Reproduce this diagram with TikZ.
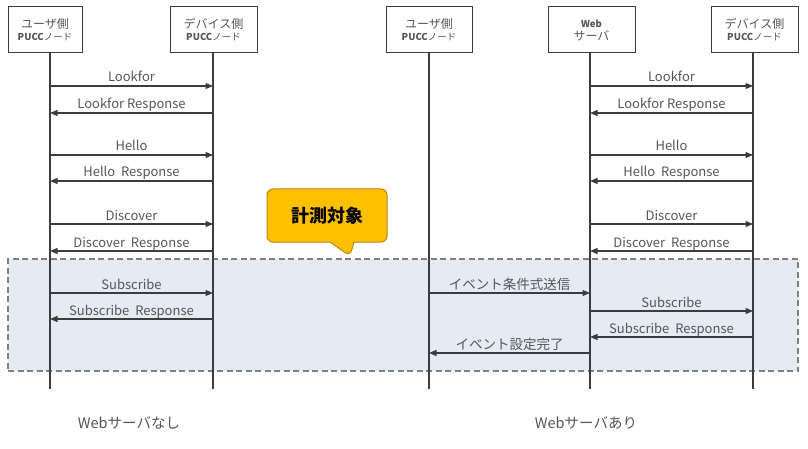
\documentclass[tikz,border=0pt]{standalone}
\usepackage{fontspec}
\setmainfont{Noto Sans CJK JP}
\usetikzlibrary{arrows.meta,shapes.callouts}
\definecolor{ln}{HTML}{3C3C3C}
\definecolor{tx}{HTML}{555555}
\definecolor{bandfill}{HTML}{E4EBF4}
\definecolor{bandline}{HTML}{7F7F7F}
\definecolor{callfill}{HTML}{FFC000}
\definecolor{callline}{HTML}{B8860B}
\tikzset{
  actor/.style={draw=ln, line width=1pt, fill=white, minimum height=46pt, align=center, inner sep=1pt, text=tx},
  life/.style={draw=ln, line width=1.1pt},
  msg/.style={draw=ln, line width=1.1pt, -{Triangle[length=7.5pt,width=6pt]}},
  lbl/.style={font=\fontsize{13}{15}\selectfont, text=tx, anchor=base, inner sep=0pt, yshift=4pt},
  jlbl/.style={lbl, font=\fontsize{13.5}{15}\selectfont},
}
\newcommand{\pucc}{{\fontsize{9.5}{11}\selectfont\textbf{PUCC}ノード}}
\begin{document}
\begin{tikzpicture}[x=1pt,y=-1pt]
\useasboundingbox (0,0) rectangle (808,449);
% measurement band
\node[draw=bandline, fill=bandfill, dashed, dash pattern=on 6pt off 3.5pt, line width=1.6pt, minimum width=790pt, minimum height=112pt, inner sep=0pt] (band) at (403,315) {};
% actors
\node[actor, minimum width=74pt] (ua) at (45,30) {\fontsize{12}{14}\selectfont ユーザ側\\[0pt]\pucc};
\node[actor, minimum width=87pt] (da) at (213.5,30) {\fontsize{12}{14}\selectfont デバイス側\\[0pt]\pucc};
\node[actor, minimum width=86pt] (ub) at (429,30) {\fontsize{12}{14}\selectfont ユーザ側\\[0pt]\pucc};
\node[actor, minimum width=87pt] (wb) at (591.5,30) {{\fontsize{9.5}{11}\selectfont\textbf{Web}}\\[1pt]\fontsize{12}{14}\selectfont サーバ};
\node[actor, minimum width=87pt] (db) at (754.5,30) {\fontsize{12}{14}\selectfont デバイス側\\[0pt]\pucc};
% lifeline ends
\coordinate (uaE) at (50,389);
\coordinate (daE) at (213,389);
\coordinate (ubE) at (429,389);
\coordinate (wbE) at (590,389);
\coordinate (dbE) at (753,389);
\draw[life] (ua.south -| uaE) -- (uaE);
\draw[life] (da.south -| daE) -- (daE);
\draw[life] (ub.south -| ubE) -- (ubE);
\draw[life] (wb.south -| wbE) -- (wbE);
\draw[life] (db.south -| dbE) -- (dbE);
% left scenario
\draw[msg] (uaE |- 0,86) -- node[lbl]{Lookfor} (daE |- 0,86);
\draw[msg] (daE |- 0,113) -- node[lbl]{Lookfor Response} (uaE |- 0,113);
\draw[msg] (uaE |- 0,155) -- node[lbl]{Hello} (daE |- 0,155);
\draw[msg] (daE |- 0,181) -- node[lbl]{Hello\ \ Response} (uaE |- 0,181);
\draw[msg] (uaE |- 0,224) -- node[lbl]{Discover} (daE |- 0,224);
\draw[msg] (daE |- 0,251) -- node[lbl]{Discover\ \ Response} (uaE |- 0,251);
\draw[msg] (uaE |- 0,293) -- node[lbl]{Subscribe} (daE |- 0,293);
\draw[msg] (daE |- 0,319) -- node[lbl]{Subscribe\ \ Response} (uaE |- 0,319);
% right scenario
\draw[msg] (wbE |- 0,86) -- node[lbl]{Lookfor} (dbE |- 0,86);
\draw[msg] (dbE |- 0,113) -- node[lbl]{Lookfor Response} (wbE |- 0,113);
\draw[msg] (wbE |- 0,155) -- node[lbl]{Hello} (dbE |- 0,155);
\draw[msg] (dbE |- 0,181) -- node[lbl]{Hello\ \ Response} (wbE |- 0,181);
\draw[msg] (wbE |- 0,224) -- node[lbl]{Discover} (dbE |- 0,224);
\draw[msg] (dbE |- 0,251) -- node[lbl]{Discover\ \ Response} (wbE |- 0,251);
\draw[msg] (ubE |- 0,293) -- node[jlbl]{イベント条件式送信} (wbE |- 0,293);
\draw[msg] (wbE |- 0,311) -- node[lbl]{Subscribe} (dbE |- 0,311);
\draw[msg] (dbE |- 0,337) -- node[lbl]{Subscribe\ \ Response} (wbE |- 0,337);
\draw[msg] (wbE |- 0,353) -- node[jlbl]{イベント設定完了} (ubE |- 0,353);
% callout
\node[rectangle callout, draw=callline, fill=callfill, line width=1pt, rounded corners=6pt,
      minimum width=120pt, minimum height=53pt, callout absolute pointer={(350,256)},
      callout pointer width=24pt, font=\fontsize{18}{20}\selectfont\bfseries] (cal) at (327,215.5) {計測対象};
% captions
\node[font=\fontsize{14.5}{16}\selectfont, text=tx] (capA) at (129,423) {Webサーバなし};
\node[font=\fontsize{14.5}{16}\selectfont, text=tx] (capB) at (586,423) {Webサーバあり};
\end{tikzpicture}
\end{document}
